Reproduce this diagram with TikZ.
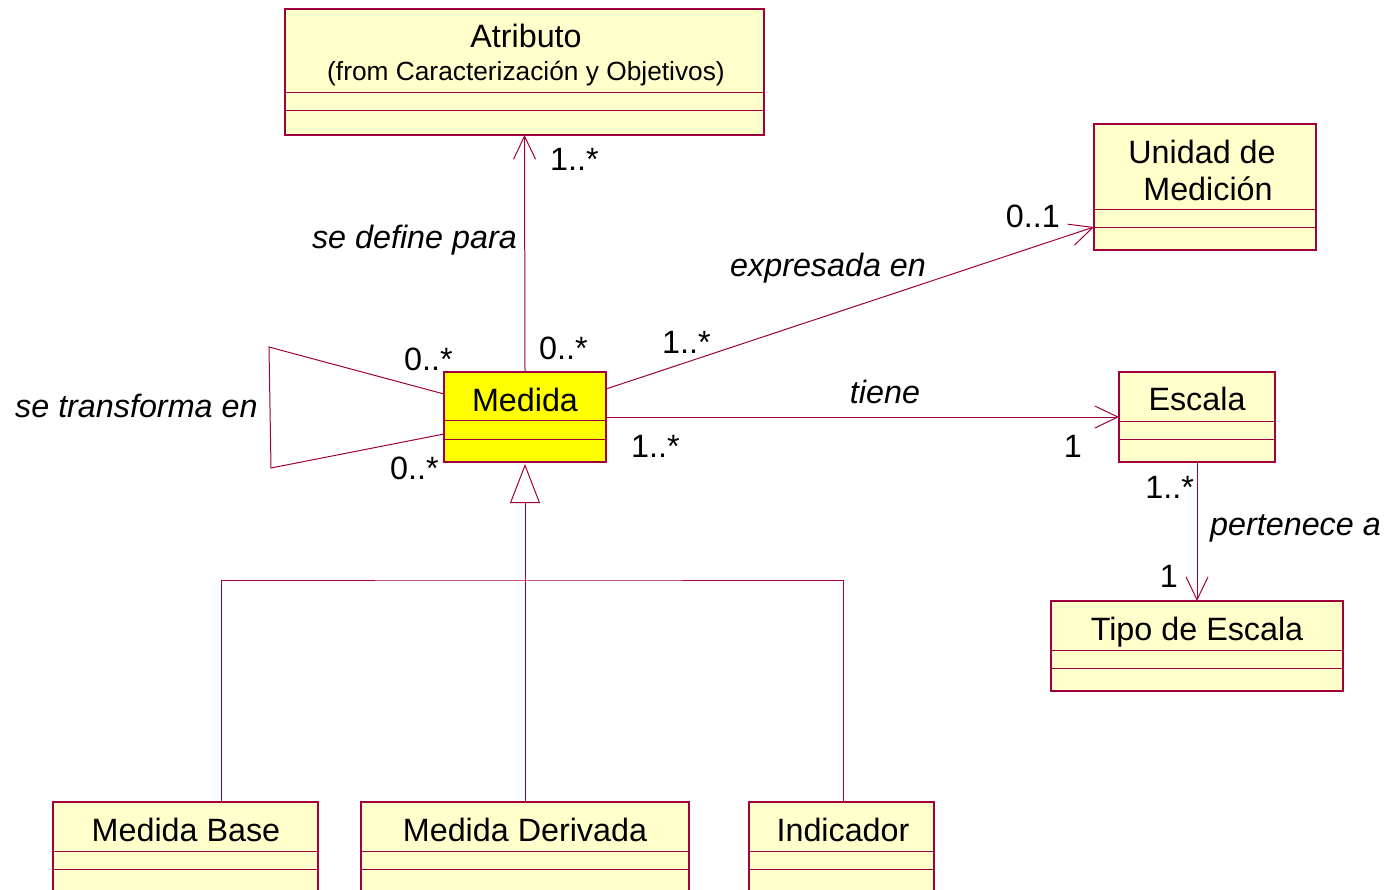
\documentclass[tikz,border=0pt]{standalone}
\usepackage{fontspec}
\setmainfont{Liberation Sans}
\usetikzlibrary{arrows.meta}

\definecolor{umlline}{HTML}{A0003C}
\definecolor{umlfill}{HTML}{FFFFCC}
\definecolor{umlhi}{HTML}{FFFF00}

\tikzset{
  classbox/.style={rectangle, draw=umlline, line width=1.2pt, inner sep=0pt, outer sep=0pt},
  sepline/.style={draw=umlline, line width=1pt},
  cname/.style={font=\fontsize{32.3}{38}\selectfont, anchor=base, inner sep=0pt},
  fromtext/.style={font=\fontsize{26.3}{31}\selectfont, anchor=base, inner sep=0pt},
  mult/.style={font=\fontsize{32.3}{38}\selectfont, inner sep=0pt},
  role/.style={font=\fontsize{32.3}{38}\selectfont\itshape, inner sep=0pt},
  assoc/.style={draw=umlline, line width=1pt},
  navi/.style={assoc, -{Straight Barb[length=23pt, width=22pt, line width=1pt]}},
  gen/.style={assoc, -{Triangle[open, length=39pt, width=30pt, line width=1pt, fill=white]}},
}

% class rectangle: name, x1, y1, x2, y2, first separator, second separator, fill
\newcommand\classrect[8]{%
  \node[classbox, fill=#8, minimum width={(#4-#2)*1pt}, minimum height={(#5-#3)*1pt}]
    (#1) at ({(#2+#4)/2},{(#3+#5)/2}) {};
  \draw[sepline] (#2,#6) -- (#4,#6) (#2,#7) -- (#4,#7);
}

\begin{document}
\begin{tikzpicture}[x=1pt, y=-1pt]
\useasboundingbox (0,0) rectangle (1389,889);

% classes
\classrect{atributo}{285}{9}{764}{135}{92}{110}{umlfill}
\node[cname] (atributoname) at (526,47) {Atributo};
\node[fromtext] (atributofrom) at (526,80) {(from Caracterización y Objetivos)};

\classrect{unidad}{1094}{124}{1316}{250}{209}{227}{umlfill}
\node[cname] (unidadname1) at (1202,163) {Unidad de};
\node[cname] (unidadname2) at (1208,200) {Medición};

\classrect{medida}{444}{372}{606}{462}{420}{439}{umlhi}
\node[cname] (medidaname) at (525,411) {Medida};

\classrect{escala}{1119}{372}{1275}{462}{421}{439}{umlfill}
\node[cname] (escalaname) at (1197,410) {Escala};

\classrect{tipo}{1051}{601}{1343}{691}{650}{668}{umlfill}
\node[cname] (tiponame) at (1197,640) {Tipo de Escala};

\classrect{mbase}{53}{802}{318}{900}{851}{869}{umlfill}
\node[cname] (mbasename) at (186,841) {Medida Base};

\classrect{mderiv}{361}{802}{689}{900}{851}{869}{umlfill}
\node[cname] (mderivname) at (525,841) {Medida Derivada};

\classrect{indic}{749}{802}{934}{900}{851}{869}{umlfill}
\node[cname] (indicname) at (843,841) {Indicador};

% associations
\draw[navi] (medida.north) -- (atributo.south);
\draw[navi] ([yshift=28pt]medida.east) -- ([yshift=-40pt]unidad.west);
\draw[navi] (medida.east) -- (escala.west);
\draw[navi] (escala.south) -- (tipo.north);

% reflexive association
\coordinate (st1) at (269,347);
\coordinate (st2) at (271,468);
\draw[assoc] ([yshift=23pt]medida.west) -- (st1) -- (st2) -- ([yshift=-17pt]medida.west);

% generalization tree
\coordinate (gj) at (525,580);
\draw[assoc] ([xshift=35.5pt]mbase.north) |- (gj) -| ([xshift=1.5pt]indic.north);
\draw[gen, shorten >=2pt] (mderiv.north) -- (medida.south);

% multiplicities and role names
\node[mult, anchor=base west] (m1) at (550,170) {1..*};
\node[role, anchor=base east] (r1) at (517,248) {se define para};
\node[mult, anchor=base west] (m2) at (539,359) {0..*};
\node[mult, anchor=base east] (m3) at (1060,227) {0..1};
\node[role, anchor=base west] (r2) at (730,276) {expresada en};
\node[mult, anchor=base west] (m4) at (662,353) {1..*};
\node[role, anchor=base] (r3) at (885,403) {tiene};
\node[mult, anchor=base west] (m5) at (631,457) {1..*};
\node[mult, anchor=base east] (m6) at (1082,457) {1};
\node[mult, anchor=base east] (m7) at (1194,498) {1..*};
\node[role, anchor=base west] (r4) at (1210,535) {pertenece a};
\node[mult, anchor=base east] (m8) at (1178,587) {1};
\node[mult, anchor=base west] (m9) at (404,370) {0..*};
\node[mult, anchor=base west] (m10) at (390,479) {0..*};
\node[role, anchor=base west] (r5) at (15,417) {se transforma en};
\end{tikzpicture}
\end{document}
